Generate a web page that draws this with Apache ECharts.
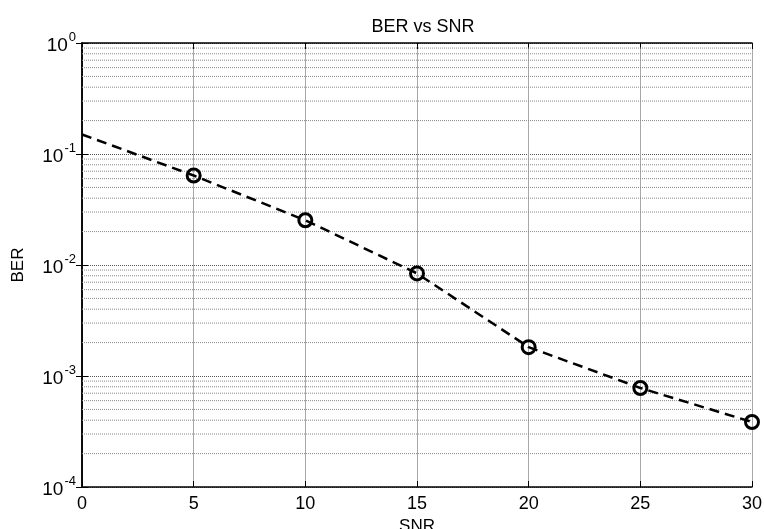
<!DOCTYPE html>
<html>
<head>
<meta charset="utf-8">
<script src="https://cdn.jsdelivr.net/npm/echarts@6/dist/echarts.min.js"></script>
<style>
  html, body { margin: 0; padding: 0; background: #fff; }
  #main { width: 764px; height: 529px; }
</style>
</head>
<body>
<div id="main"></div>
<script>
// data
var snr = [0, 5, 10, 15, 20, 25, 30];
var ber = [0.15, 0.064, 0.0253, 0.0084, 0.00182, 0.00078, 0.000385];
var xTicks = [0, 5, 10, 15, 20, 25, 30];
var yDecades = [-4, -3, -2, -1, 0];

var myChart = echarts.init(document.getElementById("main"));

var font = "Liberation Sans, Arial, sans-serif";

// minor log grid lines at 2..9 of every decade, drawn as flat dotted series
var gridSeries = [];
for (var d = 0; d < yDecades.length - 1; d++) {
  for (var m = 2; m <= 9; m++) {
    var v = m * Math.pow(10, yDecades[d]);
    gridSeries.push({
      type: "line",
      silent: true,
      symbol: "none",
      data: [[xTicks[0], v], [xTicks[xTicks.length - 1], v]],
      lineStyle: { color: "#8a8a8a", type: "dotted", width: 1 },
      z: 1,
    });
  }
}

var points = snr.map(function (x, i) {
  var p = { value: [x, ber[i]] };
  if (i === 0) p.symbol = "none"; // no marker at 0
  return p;
});

var option = {
  animation: false,
  title: {
    text: "BER vs SNR",
    left: 418,
    top: 13,
    textAlign: "center",
    textStyle: { fontFamily: font, fontSize: 18, fontWeight: "normal", color: "#000" },
  },
  grid: { left: 82, top: 43, right: 12, bottom: 42, outerBoundsMode: "none", containLabel: false },
  xAxis: [
    {
      type: "value",
      min: 0,
      max: 30,
      interval: 5,
      name: "SNR",
      nameLocation: "middle",
      nameGap: 28,
      nameTextStyle: { fontFamily: font, fontSize: 17, color: "#000" },
      axisLine: { lineStyle: { color: "#000", width: 1.5 } },
      axisTick: { inside: true, length: 6, lineStyle: { color: "#000" } },
      axisLabel: {
        fontFamily: font, fontSize: 18, color: "#000", margin: 8,
        formatter: function (v) { return xTicks.indexOf(v) >= 0 ? String(v) : ""; },
      },
      splitLine: { show: true, lineStyle: { color: "#a8a8a8", width: 1 } },
    },
    {
      type: "value",
      position: "top",
      min: 0,
      max: 30,
      interval: 5,
      axisLine: { show: true, lineStyle: { color: "#000", width: 1.5 } },
      axisTick: { inside: true, length: 6, lineStyle: { color: "#000" } },
      axisLabel: { show: false },
      splitLine: { show: false },
    },
  ],
  yAxis: [
    {
      type: "log",
      logBase: 10,
      min: 1e-4,
      max: 1,
      name: "BER",
      nameLocation: "middle",
      nameGap: 55,
      nameRotate: 90,
      nameTextStyle: { fontFamily: font, fontSize: 17, color: "#000" },
      axisLine: { show: true, lineStyle: { color: "#000", width: 1.5 } },
      axisTick: { inside: true, length: 6, lineStyle: { color: "#000" } },
      axisLabel: {
        margin: 6,
        formatter: function (v) {
          return "{b|10}{s|" + Math.round(Math.log10(v)) + "}";
        },
        rich: {
          b: { fontFamily: font, fontSize: 19, color: "#000", verticalAlign: "bottom" },
          s: { fontFamily: font, fontSize: 13, color: "#000", verticalAlign: "top", padding: [0, 0, 12, 1] },
        },
      },
      splitLine: { show: true, lineStyle: { color: "#555", type: "dotted", width: 1 } },
    },
    {
      type: "log",
      logBase: 10,
      min: 1e-4,
      max: 1,
      position: "right",
      axisLine: { show: true, lineStyle: { color: "#000", width: 1.5 } },
      axisTick: { inside: true, length: 6, lineStyle: { color: "#000" } },
      axisLabel: { show: false },
      splitLine: { show: false },
    },
  ],
  series: gridSeries.concat([
    {
      name: "BER",
      type: "line",
      data: points,
      symbol: "circle",
      symbolSize: 13,
      itemStyle: { color: "rgba(255,255,255,0)", borderColor: "#000", borderWidth: 3 },
      lineStyle: { color: "#000", width: 2.5, type: [10, 6] },
      z: 5,
    },
  ]),
};

myChart.setOption(option);
</script>
</body>
</html>
